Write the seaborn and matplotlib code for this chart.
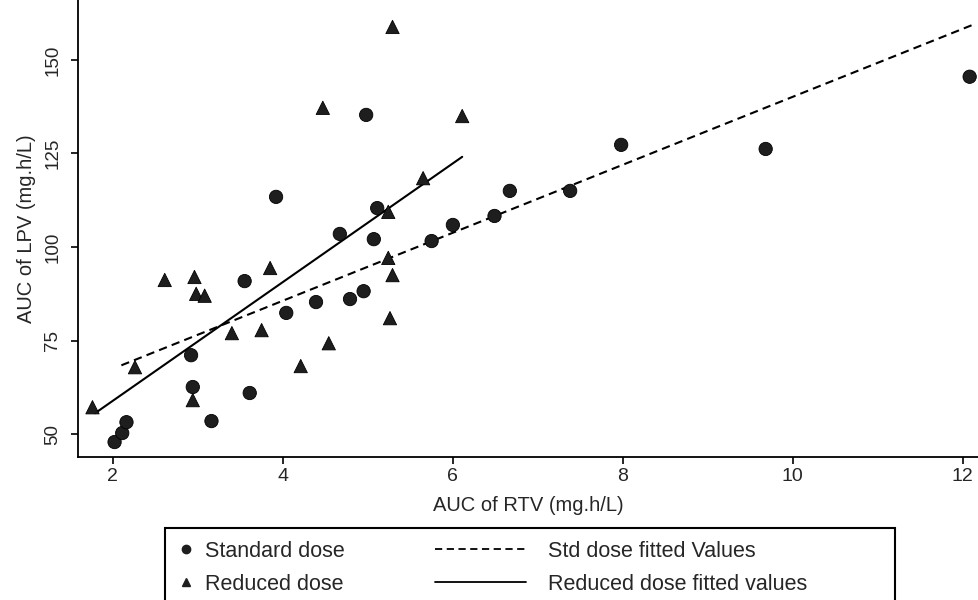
import pandas as pd
import matplotlib.pyplot as plt
import seaborn as sns
from matplotlib.lines import Line2D
from matplotlib.patches import Rectangle

# Standard dose observations (AUC of RTV, AUC of LPV)
std_rtv = [2.02, 2.11, 2.16, 3.16, 3.61, 2.94, 2.92, 3.55, 3.92, 4.04, 4.39, 4.79, 4.95,
           4.67, 5.07, 5.11, 4.98, 5.75, 6.00, 6.49, 6.67, 7.38, 7.98, 9.68, 12.08]
std_lpv = [47.9, 50.3, 53.2, 53.5, 61.0, 62.6, 71.1, 90.9, 113.4, 82.4, 85.3, 86.1, 88.2,
           103.5, 102.1, 110.4, 135.3, 101.6, 105.9, 108.3, 115.0, 115.0, 127.3, 126.2, 145.5]

# Reduced dose observations
red_rtv = [5.29, 4.47, 6.11, 5.65, 5.24, 3.85, 5.24, 5.29, 3.75, 4.54, 5.26, 4.21, 2.61,
           2.96, 2.98, 3.08, 3.40, 2.26, 1.76, 2.94]
red_lpv = [158.8, 137.2, 135.0, 118.4, 109.4, 94.4, 97.1, 92.5, 77.8, 74.3, 81.0, 68.2, 91.2,
           92.0, 87.5, 87.0, 77.0, 67.9, 57.2, 59.1]

# Fitted values (line end points)
std_fit_rtv = [2.10, 12.12]
std_fit_lpv = [68.4, 159.4]
red_fit_rtv = [1.79, 6.11]
red_fit_lpv = [55.6, 124.1]

x_ticks = [2, 4, 6, 8, 10, 12]
y_ticks = [50, 75, 100, 125, 150]

df = pd.DataFrame({
    'rtv': std_rtv + red_rtv,
    'lpv': std_lpv + red_lpv,
    'dose': ['Standard dose'] * len(std_rtv) + ['Reduced dose'] * len(red_rtv),
})

sns.set_style("white")
plt.rcParams['font.family'] = ['Liberation Sans', 'DejaVu Sans']

fig = plt.figure(figsize=(9.79, 6), dpi=100)
ax = fig.add_axes([0.0797, 0.238, 0.9203, 0.762])

sns.scatterplot(data=df, x='rtv', y='lpv', style='dose',
                markers={'Standard dose': 'o', 'Reduced dose': '^'},
                color='#1e1e1e', edgecolor='#000000', linewidth=0.6,
                s=92, legend=False, ax=ax, zorder=3)

sns.lineplot(x=std_fit_rtv, y=std_fit_lpv, ax=ax, color='black', lw=1.5,
             zorder=2).lines[-1].set_dashes([4, 2.5])
sns.lineplot(x=red_fit_rtv, y=red_fit_lpv, ax=ax, color='black', lw=1.5, zorder=2)

ax.set_xlim(1.59, 12.19)
ax.set_ylim(43.85, 166)
ax.set_xticks(x_ticks)
ax.set_yticks(y_ticks)
ax.tick_params(axis='both', direction='out', length=5, width=1.2, color='black',
               bottom=True, left=True)
ax.tick_params(axis='x', labelsize=14, pad=3)
ax.tick_params(axis='y', labelsize=13.5, pad=7)
for lab in ax.get_yticklabels():
    lab.set_rotation(90)
    lab.set_va('center')

sns.despine(ax=ax)
for side in ['left', 'bottom']:
    ax.spines[side].set_color('black')
    ax.spines[side].set_linewidth(1.3)

ax.set_xlabel('AUC of RTV (mg.h/L)', fontsize=14.5, labelpad=8)
ax.set_ylabel('AUC of LPV (mg.h/L)', fontsize=14.5, labelpad=6)

# legend frame spanning two legend columns
fig.patches.append(Rectangle((0.1685, -0.05), 0.7457, 0.17, transform=fig.transFigure,
                             fill=False, edgecolor='black', linewidth=1.5))

mark_handles = [
    Line2D([], [], marker='o', ls='none', color='#1e1e1e', markersize=6),
    Line2D([], [], marker='^', ls='none', color='#1e1e1e', markersize=6),
]
fig.legend(mark_handles, ['Standard dose', 'Reduced dose'], loc='upper left',
           bbox_to_anchor=(0.166, 0.127), frameon=False, fontsize=15.5,
           handlelength=0.6, handletextpad=0.58, labelspacing=0.55, borderpad=0.3)

line_handles = [
    Line2D([], [], color='black', lw=1.3, dashes=[4, 2.5]),
    Line2D([], [], color='black', lw=1.3),
]
fig.legend(line_handles, ['Std dose fitted Values', 'Reduced dose fitted values'],
           loc='upper left', bbox_to_anchor=(0.427, 0.127), frameon=False, fontsize=15.5,
           handlelength=4.2, handletextpad=1.05, labelspacing=0.55, borderpad=0.3)

fig.savefig('out.png', dpi=100)
